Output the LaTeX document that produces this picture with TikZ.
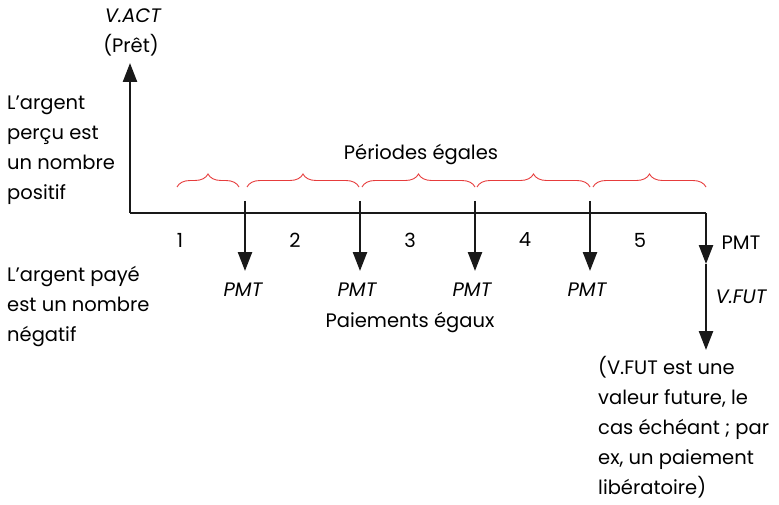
\documentclass[tikz,border=0pt]{standalone}
\usepackage{fontspec}
\setmainfont{Poppins}
\usetikzlibrary{arrows.meta,decorations.pathreplacing}
\definecolor{bracered}{RGB}{230,60,60}
\tikzset{
  axisline/.style={line width=2.4pt, draw=black!90},
  payarrow/.style={line width=2.4pt, draw=black!90, -{Triangle[length=19pt,width=14pt]}},
  txt/.style={inner sep=0pt, font=\fontsize{19.5}{30}\selectfont},
  itxt/.style={inner sep=0pt, font=\fontsize{19.5}{30}\selectfont\itshape},
  brc/.style={draw=bracered, line width=0.9pt, decorate, decoration={brace, amplitude=13pt}},
}
\begin{document}
\begin{tikzpicture}[x=1pt,y=-1pt]
\useasboundingbox (0,0) rectangle (779,505);
% axis coordinates
\coordinate (o) at (130,213);
\coordinate (top) at (130,63);
\coordinate (e) at (706,213);
\coordinate (pe) at (706,264);
\coordinate (fe) at (706,350);
\draw[axisline, -{Triangle[length=19pt,width=14pt]}] (o) -- (top);
\draw[axisline] (o) -- (e);
\draw[payarrow] (e) -- (pe);
\draw[payarrow] (pe) -- (fe);
% payment arrows
\foreach \n/\x in {a/245,b/360,c/475,d/590}{
  \coordinate (s\n) at (\x,201);
  \coordinate (t\n) at (\x,271);
  \draw[payarrow] (s\n) -- (t\n);
}
% braces
\foreach \n/\a/\b in {1/177/239,2/247/359,3/362/475,4/477/590,5/593/706}{
  \coordinate (bl\n) at (\a,187);
  \coordinate (br\n) at (\b,187);
  \draw[brc] (bl\n) -- (br\n);
}
% labels
\node[itxt] (vact) at (133,16) {V.ACT};
\node[txt] (pret) at (131,45) {(Prêt)};
\node[txt] (per) at (421,155) {Périodes égales};
\foreach \n/\x in {1/180,2/295,3/410,4/525,5/640}{
  \node[txt] (num\n) at (\x,240) {\n};
}
\foreach \n/\x in {a/243,b/357,c/472,d/587}{
  \node[itxt] (pmt\n) at (\x,290) {PMT};
}
\node[txt] (paie) at (410,323) {Paiements égaux};
\node[txt] (pmtr) at (741,243) {PMT};
\node[itxt] (vfut) at (741,297) {V.FUT};
\node[txt, anchor=west, align=left] (left1) at (7,150) {L'argent\\perçu est\\un nombre\\positif};
\node[txt, anchor=west, align=left] (left2) at (7,307) {L'argent payé\\est un nombre\\négatif};
\node[txt, anchor=west, align=left] (right1) at (598,427) {(V.FUT est une\\valeur future, le\\cas échéant ; par\\ex, un paiement\\libératoire)};
\end{tikzpicture}
\end{document}
